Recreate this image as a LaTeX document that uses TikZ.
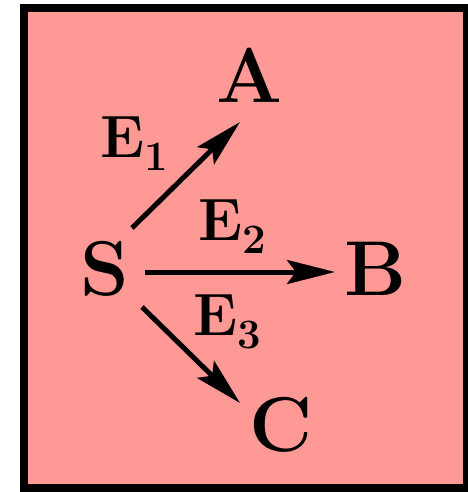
\documentclass[tikz,border=0pt]{standalone}
\usetikzlibrary{arrows.meta,calc}
\definecolor{bgpink}{RGB}{255,153,150}
\begin{document}
\begin{tikzpicture}[x=1bp,y=-1bp,
  big/.style={inner sep=0pt,anchor=base,font=\fontsize{78}{78}\selectfont\bfseries},
  lbl/.style={inner sep=0pt,anchor=base west,font=\fontsize{60}{60}\selectfont\bfseries},
  arr/.style={line width=5bp,-{Stealth[length=48bp,width=24bp,inset=9bp]}}]
\useasboundingbox (0,0) rectangle (468,492);
\fill[black] (20,4) rectangle (475,499);
\fill[bgpink] (28,12) rectangle (463,484);
\node[big] (A) at (250,103) {A};
\node[big] (S) at (105,295) {S};
\node[big] (B) at (376,295) {B};
\node[big] (C) at (281,451) {C};
\newcommand{\sbs}[1]{\raisebox{-13bp}{\fontsize{42}{42}\selectfont #1}}
\node[lbl] (E1) at (100,158) {E\sbs{1}};
\node[lbl] (E2) at (198,240) {E\sbs{2}};
\node[lbl] (E3) at (193,335) {E\sbs{3}};
\draw[arr] ($(S.base)+(27,-67)$) -- ($(A.base)+(-10,19)$);
\draw[arr] ($(S.base)+(40,-23)$) -- ($(B.base)+(-41,-23)$);
\draw[arr] ($(S.base)+(37,12)$) -- ($(C.base)+(-41,-48)$);
\end{tikzpicture}
\end{document}
